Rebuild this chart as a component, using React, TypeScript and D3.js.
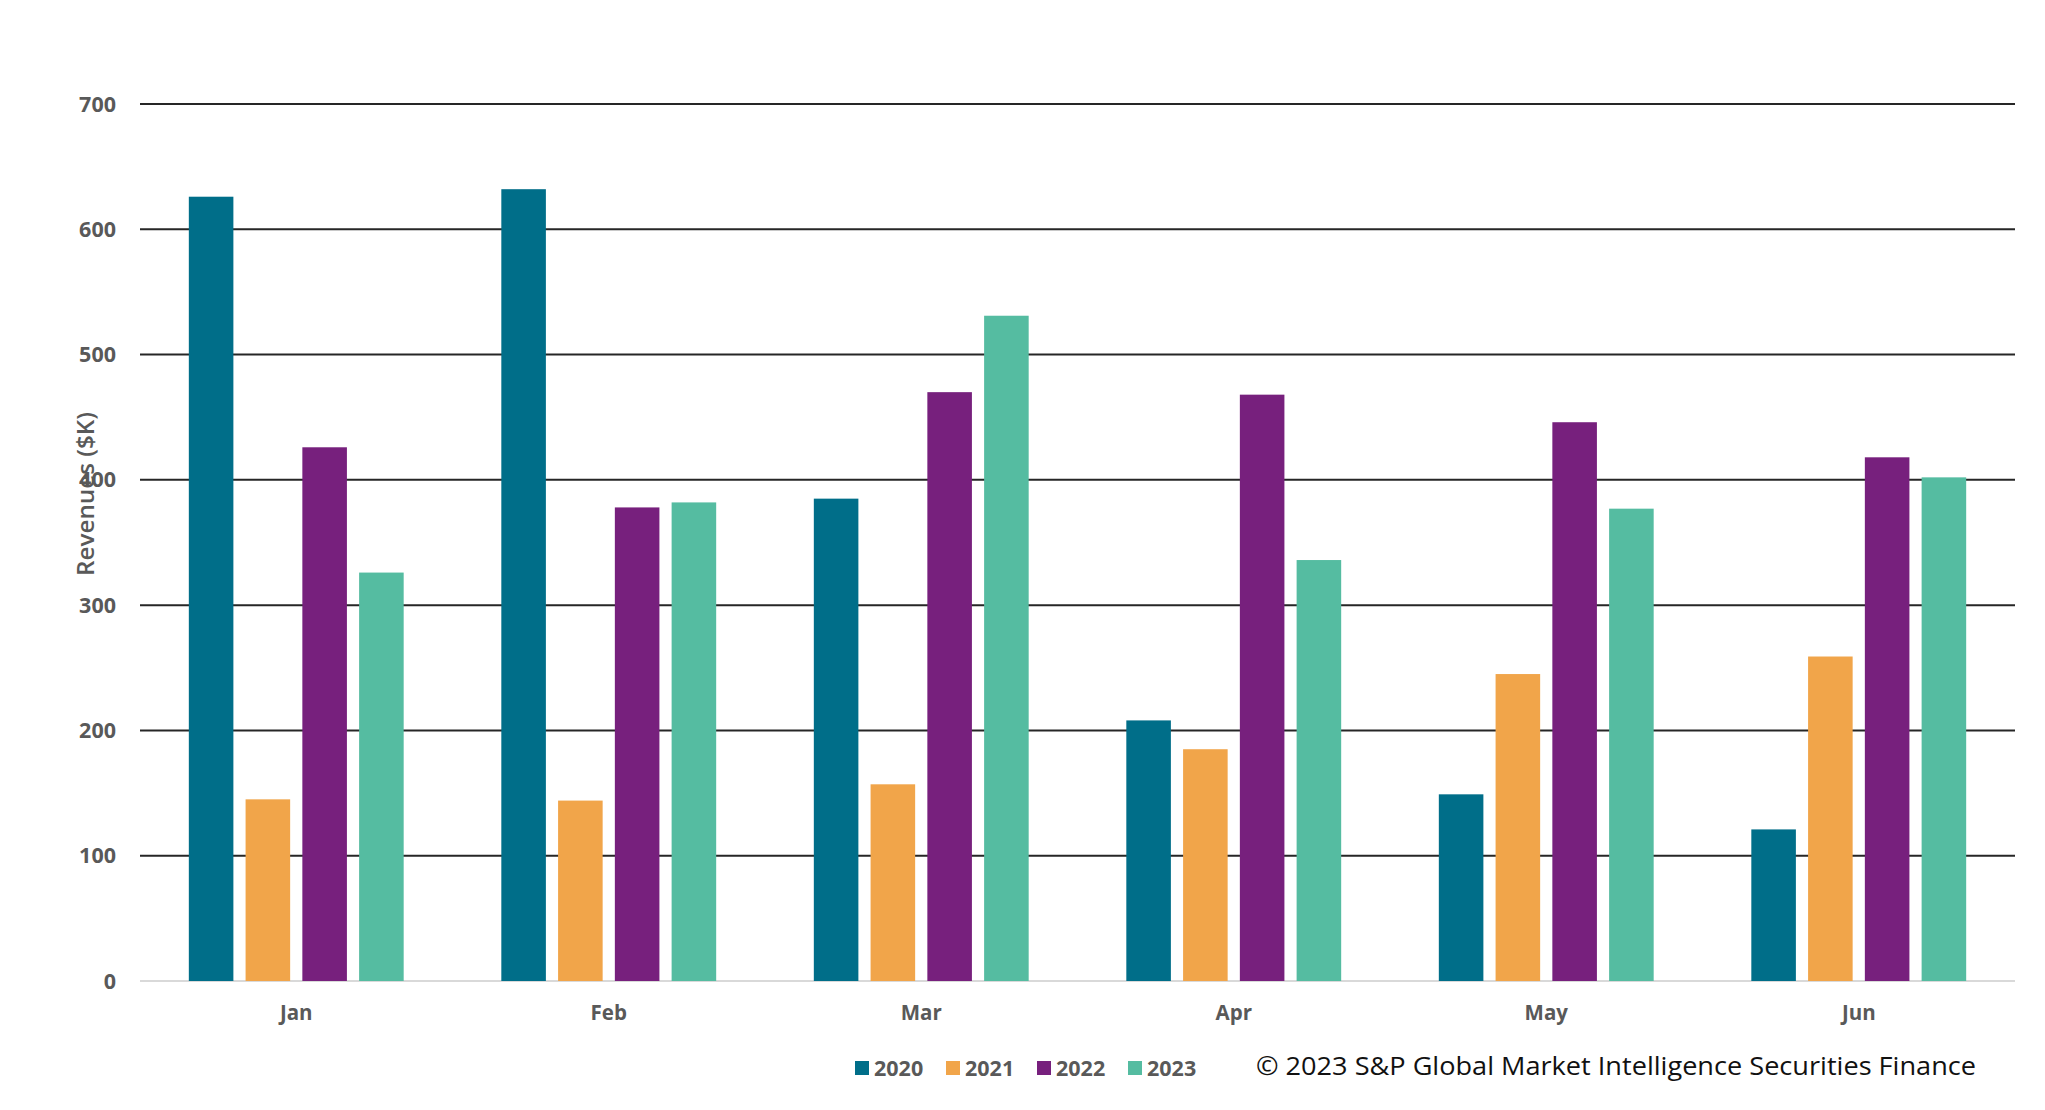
import React, { useEffect } from 'react';
import * as d3 from 'd3';

const months = ['Jan', 'Feb', 'Mar', 'Apr', 'May', 'Jun'];
const years = ['2020', '2021', '2022', '2023'];
const rev2020 = [626, 632, 385, 208, 149, 121];
const rev2021 = [145, 144, 157, 185, 245, 259];
const rev2022 = [426, 378, 470, 468, 446, 418];
const rev2023 = [326, 382, 531, 336, 377, 402];
const yTicks = [0, 100, 200, 300, 400, 500, 600, 700];
const colors = ['#006E89', '#F1A54A', '#77207D', '#55BCA1'];

const series = [rev2020, rev2021, rev2022, rev2023];

const W = 2045;
const H = 1110;
const left = 140;
const right = 2015;
const top = 104;
const bottom = 981;

const App = () => {
  useEffect(() => {
    document.body.style.margin = '0';
  }, []);

  const x0 = d3.scaleBand().domain(months).range([left, right]).padding(0);
  const x1 = d3
    .scaleBand()
    .domain(years)
    .range([0, x0.bandwidth()])
    .paddingInner(0.215)
    .paddingOuter(0.86);
  const y = d3.scaleLinear().domain([0, 700]).range([bottom, top]);

  const labelFont = "'Open Sans', sans-serif";

  return (
    <svg width={W} height={H} style={{ display: 'block', background: '#fff' }}>
      {/* grid */}
      {yTicks.map((t) => (
        <g key={t}>
          <line
            x1={left}
            x2={right}
            y1={y(t)}
            y2={y(t)}
            stroke={t === 0 ? '#d9d9d9' : '#262626'}
            strokeWidth={2}
          />
          <text
            x={116}
            y={y(t)}
            dy="0.35em"
            textAnchor="end"
            fontFamily={labelFont}
            fontWeight={700}
            fontSize={21.5}
            fill="#595959"
          >
            {t}
          </text>
        </g>
      ))}

      {/* bars */}
      {months.map((m, i) => (
        <g key={m} transform={`translate(${x0(m)},0)`}>
          {years.map((yr, j) => (
            <rect
              key={yr}
              x={x1(yr)}
              y={y(series[j][i])}
              width={x1.bandwidth()}
              height={y(0) - y(series[j][i])}
              fill={colors[j]}
            />
          ))}
          <text
            x={x0.bandwidth() / 2}
            y={1013}
            dy="0.35em"
            textAnchor="middle"
            fontFamily={labelFont}
            fontWeight={700}
            fontSize={20.5}
            fill="#595959"
          >
            {m}
          </text>
        </g>
      ))}

      {/* y axis title */}
      <text
        transform={`translate(86,494) rotate(-90)`}
        dy="0.35em"
        textAnchor="middle"
        fontFamily={labelFont}
        fontWeight={600}
        fontSize={23}
        fill="#595959"
        textLength={164}
        lengthAdjust="spacingAndGlyphs"
      >
        Revenues ($K)
      </text>

      {/* legend */}
      {years.map((yr, j) => (
        <g key={yr} transform={`translate(${855 + j * 91},1068)`}>
          <rect x={0} y={-7} width={14} height={14} fill={colors[j]} />
          <text
            x={19}
            y={0}
            dy="0.35em"
            fontFamily={labelFont}
            fontWeight={700}
            fontSize={21.5}
            fill="#595959"
          >
            {yr}
          </text>
        </g>
      ))}

      <text
        x={1256}
        y={1066}
        dy="0.35em"
        fontFamily={labelFont}
        fontSize={26}
        fill="#111"
        textLength={720}
        lengthAdjust="spacingAndGlyphs"
      >
        © 2023 S&amp;P Global Market Intelligence Securities Finance
      </text>
    </svg>
  );
};

export default App;
